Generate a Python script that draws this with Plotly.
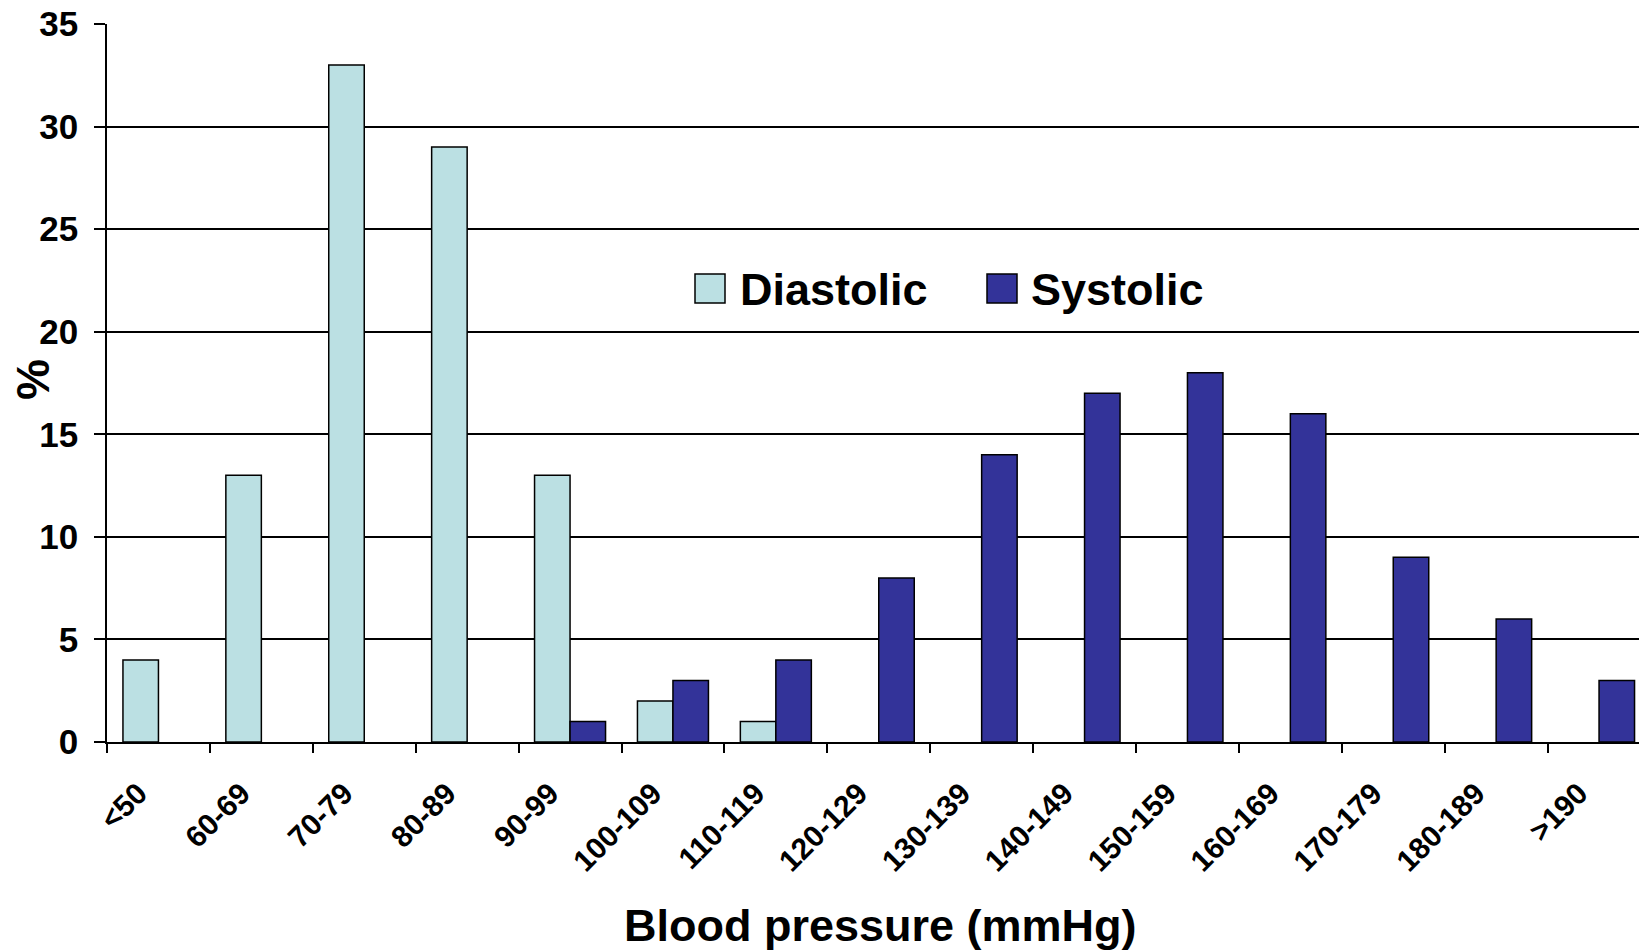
import plotly.graph_objects as go

# Blood pressure bands and percentage of readings in each band
bands = ["<50", "60-69", "70-79", "80-89", "90-99", "100-109", "110-119",
         "120-129", "130-139", "140-149", "150-159", "160-169", "170-179",
         "180-189", ">190"]
diastolic = [4, 13, 33, 29, 13, 2, 1, 0, 0, 0, 0, 0, 0, 0, 0]
systolic = [0, 0, 0, 0, 1, 3, 4, 8, 14, 17, 18, 16, 9, 6, 3]
y_ticks = [0, 5, 10, 15, 20, 25, 30, 35]

FONT = "Liberation Sans, Arial, sans-serif"
DIA_COLOR = "#BBE0E3"
SYS_COLOR = "#333399"
W, H = 1639, 952


def nonzero(values):
    # empty bands get no bar at all (not a flat outline)
    return [v if v else None for v in values]


fig = go.Figure()
fig.add_trace(go.Bar(x=bands, y=nonzero(diastolic), name="Diastolic",
                     marker=dict(color=DIA_COLOR, line=dict(color="black", width=1.5)),
                     showlegend=False))
fig.add_trace(go.Bar(x=bands, y=nonzero(systolic), name="Systolic",
                     marker=dict(color=SYS_COLOR, line=dict(color="black", width=1.5)),
                     showlegend=False))

plot_l, plot_t, plot_r, plot_b = 107, 24, W, 742
pw, ph = plot_r - plot_l, plot_b - plot_t


def px_x(v):
    return (v - plot_l) / pw


def px_y(v):
    return (plot_b - v) / ph


# Legend drawn as swatches + labels inside the plot
legend_items = [("Diastolic", DIA_COLOR, 695, 740), ("Systolic", SYS_COLOR, 987, 1031)]
for label, color, sx, tx in legend_items:
    fig.add_shape(type="rect", xref="paper", yref="paper",
                  x0=px_x(sx), x1=px_x(sx + 30), y0=px_y(303), y1=px_y(274),
                  fillcolor=color, line=dict(color="black", width=1.5))
    fig.add_annotation(text=label, xref="paper", yref="paper",
                       x=px_x(tx - 2), y=px_y(290), xanchor="left", yanchor="middle",
                       showarrow=False, font=dict(family=FONT, size=45, color="black"))

# Axis titles
fig.add_annotation(text="Blood pressure (mmHg)", xref="paper", yref="paper",
                   x=px_x(880), y=px_y(925), xanchor="center", yanchor="middle",
                   showarrow=False, font=dict(family=FONT, size=45, color="black"))
fig.add_annotation(text="%", textangle=-90, xref="paper", yref="paper",
                   x=px_x(33), y=px_y(380), xanchor="center", yanchor="middle",
                   showarrow=False, font=dict(family=FONT, size=46, color="black"))

fig.update_layout(
    width=W, height=H,
    margin=dict(l=plot_l, r=0, t=plot_t, b=H - plot_b, pad=0, autoexpand=False),
    paper_bgcolor="white", plot_bgcolor="white",
    barmode="group", bargap=0.31, bargroupgap=0,
    font=dict(family=FONT, color="black", weight="bold"),
)
fig.update_xaxes(
    type="category", range=[-0.5, -0.5 + pw / 102.9], automargin=False,
    tickson="boundaries", ticks="outside", ticklen=9, tickwidth=1.5, tickcolor="black",
    tickangle=-45, tickfont=dict(family=FONT, size=30, color="black", weight="bold"),
    showline=True, linecolor="black", linewidth=1.5, showgrid=False,
    ticklabelstandoff=20, ticklabelshift=-20,
)
fig.update_yaxes(
    range=[0, 35], tickvals=y_ticks, automargin=False,
    ticks="outside", ticklen=11, tickwidth=1.5, tickcolor="black",
    tickfont=dict(family=FONT, size=35, color="black", weight="bold"),
    showline=True, linecolor="black", linewidth=1.5,
    showgrid=True, gridcolor="black", gridwidth=1.5, zeroline=False,
    ticklabelstandoff=9,
)

fig.write_html("out.html")
